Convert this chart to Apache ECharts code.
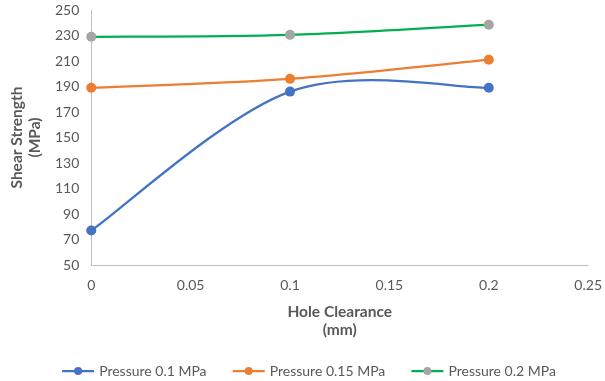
<!DOCTYPE html>
<html>
<head>
<meta charset="utf-8">
<script src="https://cdn.jsdelivr.net/npm/echarts@6/dist/echarts.min.js"></script>
<style>
  html, body { margin: 0; padding: 0; background: #fff; }
  #chart { width: 605px; height: 381px; }
</style>
</head>
<body>
<div id="chart"></div>
<script>
// Hole clearance (mm) at which shear strength was measured
const clearance = [0, 0.1, 0.2];

// Shear strength (MPa) for each clamping pressure
const p01 = [77, 186, 189];
const p015 = [189, 196, 211];
const p02 = [229, 230.5, 238.5];

const seriesNames = ['Pressure 0.1 MPa', 'Pressure 0.15 MPa', 'Pressure 0.2 MPa'];

const font = 'Lato, "Open Sans", sans-serif';
const textGray = '#595959';
const axisGray = '#BFBFBF';

const lineColors = ['#4472C4', '#ED7D31', '#00B050'];
const markerColors = ['#4472C4', '#ED7D31', '#A5A5A5'];

function pairs(values) {
  return clearance.map((x, i) => [x, values[i]]);
}

// Smoothed connecting curve (Catmull-Rom style Bezier segments between
// neighbouring points, positioned through the axes with api.coord)
function curveSeries(values, color) {
  const n = clearance.length;
  return {
    type: 'custom',
    silent: true,
    z: 1,
    data: pairs(values),
    encode: { x: 0, y: 1 },
    renderItem: function (params, api) {
      const i = params.dataIndex;
      if (i >= n - 1) return null;
      const pt = function (j) {
        const k = Math.max(0, Math.min(n - 1, j));
        return api.coord([clearance[k], values[k]]);
      };
      const a = pt(i - 1), b = pt(i), c = pt(i + 1), d = pt(i + 2);
      return {
        type: 'bezierCurve',
        shape: {
          x1: b[0], y1: b[1],
          x2: c[0], y2: c[1],
          cpx1: b[0] + (c[0] - a[0]) / 6,
          cpy1: b[1] + (c[1] - a[1]) / 6,
          cpx2: c[0] - (d[0] - b[0]) / 6,
          cpy2: c[1] - (d[1] - b[1]) / 6
        },
        style: { stroke: color, lineWidth: 2.25, fill: null, lineCap: 'round' }
      };
    }
  };
}

// Point markers (curve itself is drawn by curveSeries)
function markerSeries(name, values, lineColor, markerColor) {
  return {
    name: name,
    type: 'line',
    data: pairs(values),
    symbol: 'circle',
    symbolSize: 10,
    z: 3,
    lineStyle: { color: lineColor, width: 2.25, opacity: 0 },
    itemStyle: { color: markerColor },
    emphasis: { disabled: true }
  };
}

const chart = echarts.init(document.getElementById('chart'), null, { renderer: 'canvas' });

chart.setOption({
  animation: false,
  textStyle: { fontFamily: font },
  grid: { left: 89, right: 16, top: 10, bottom: 116, containLabel: false },
  xAxis: {
    type: 'value',
    min: 0,
    max: 0.25,
    interval: 0.05,
    name: 'Hole Clearance\n(mm)',
    nameLocation: 'middle',
    nameGap: 38,
    nameTextStyle: { fontFamily: font, fontSize: 15.5, fontWeight: 'bold', color: textGray, lineHeight: 18 },
    axisLine: { show: true, lineStyle: { color: axisGray, width: 1 } },
    axisTick: { show: false },
    splitLine: { show: false },
    axisLabel: { color: textGray, fontSize: 14, margin: 13, fontFamily: font }
  },
  yAxis: {
    type: 'value',
    min: 50,
    max: 250,
    interval: 20,
    name: 'Shear Strength\n(MPa)',
    nameLocation: 'middle',
    nameRotate: 90,
    nameGap: 45,
    nameTextStyle: { fontFamily: font, fontSize: 15.5, fontWeight: 'bold', color: textGray, lineHeight: 18 },
    axisLine: { show: true, lineStyle: { color: axisGray, width: 1 } },
    axisTick: { show: false },
    splitLine: { show: false },
    axisLabel: { color: textGray, fontSize: 14, margin: 12, fontFamily: font }
  },
  legend: {
    left: 61,
    top: 364,
    padding: 0,
    itemWidth: 32,
    itemHeight: 10,
    itemGap: 25,
    textStyle: { color: textGray, fontSize: 14, fontFamily: font },
    data: seriesNames.map((name, i) => ({
      name: name,
      lineStyle: { color: lineColors[i], width: 2.25, opacity: 1 },
      itemStyle: { color: markerColors[i] }
    }))
  },
  series: [
    curveSeries(p01, lineColors[0]),
    curveSeries(p015, lineColors[1]),
    curveSeries(p02, lineColors[2]),
    markerSeries(seriesNames[0], p01, lineColors[0], markerColors[0]),
    markerSeries(seriesNames[1], p015, lineColors[1], markerColors[1]),
    markerSeries(seriesNames[2], p02, lineColors[2], markerColors[2])
  ]
});
</script>
</body>
</html>
